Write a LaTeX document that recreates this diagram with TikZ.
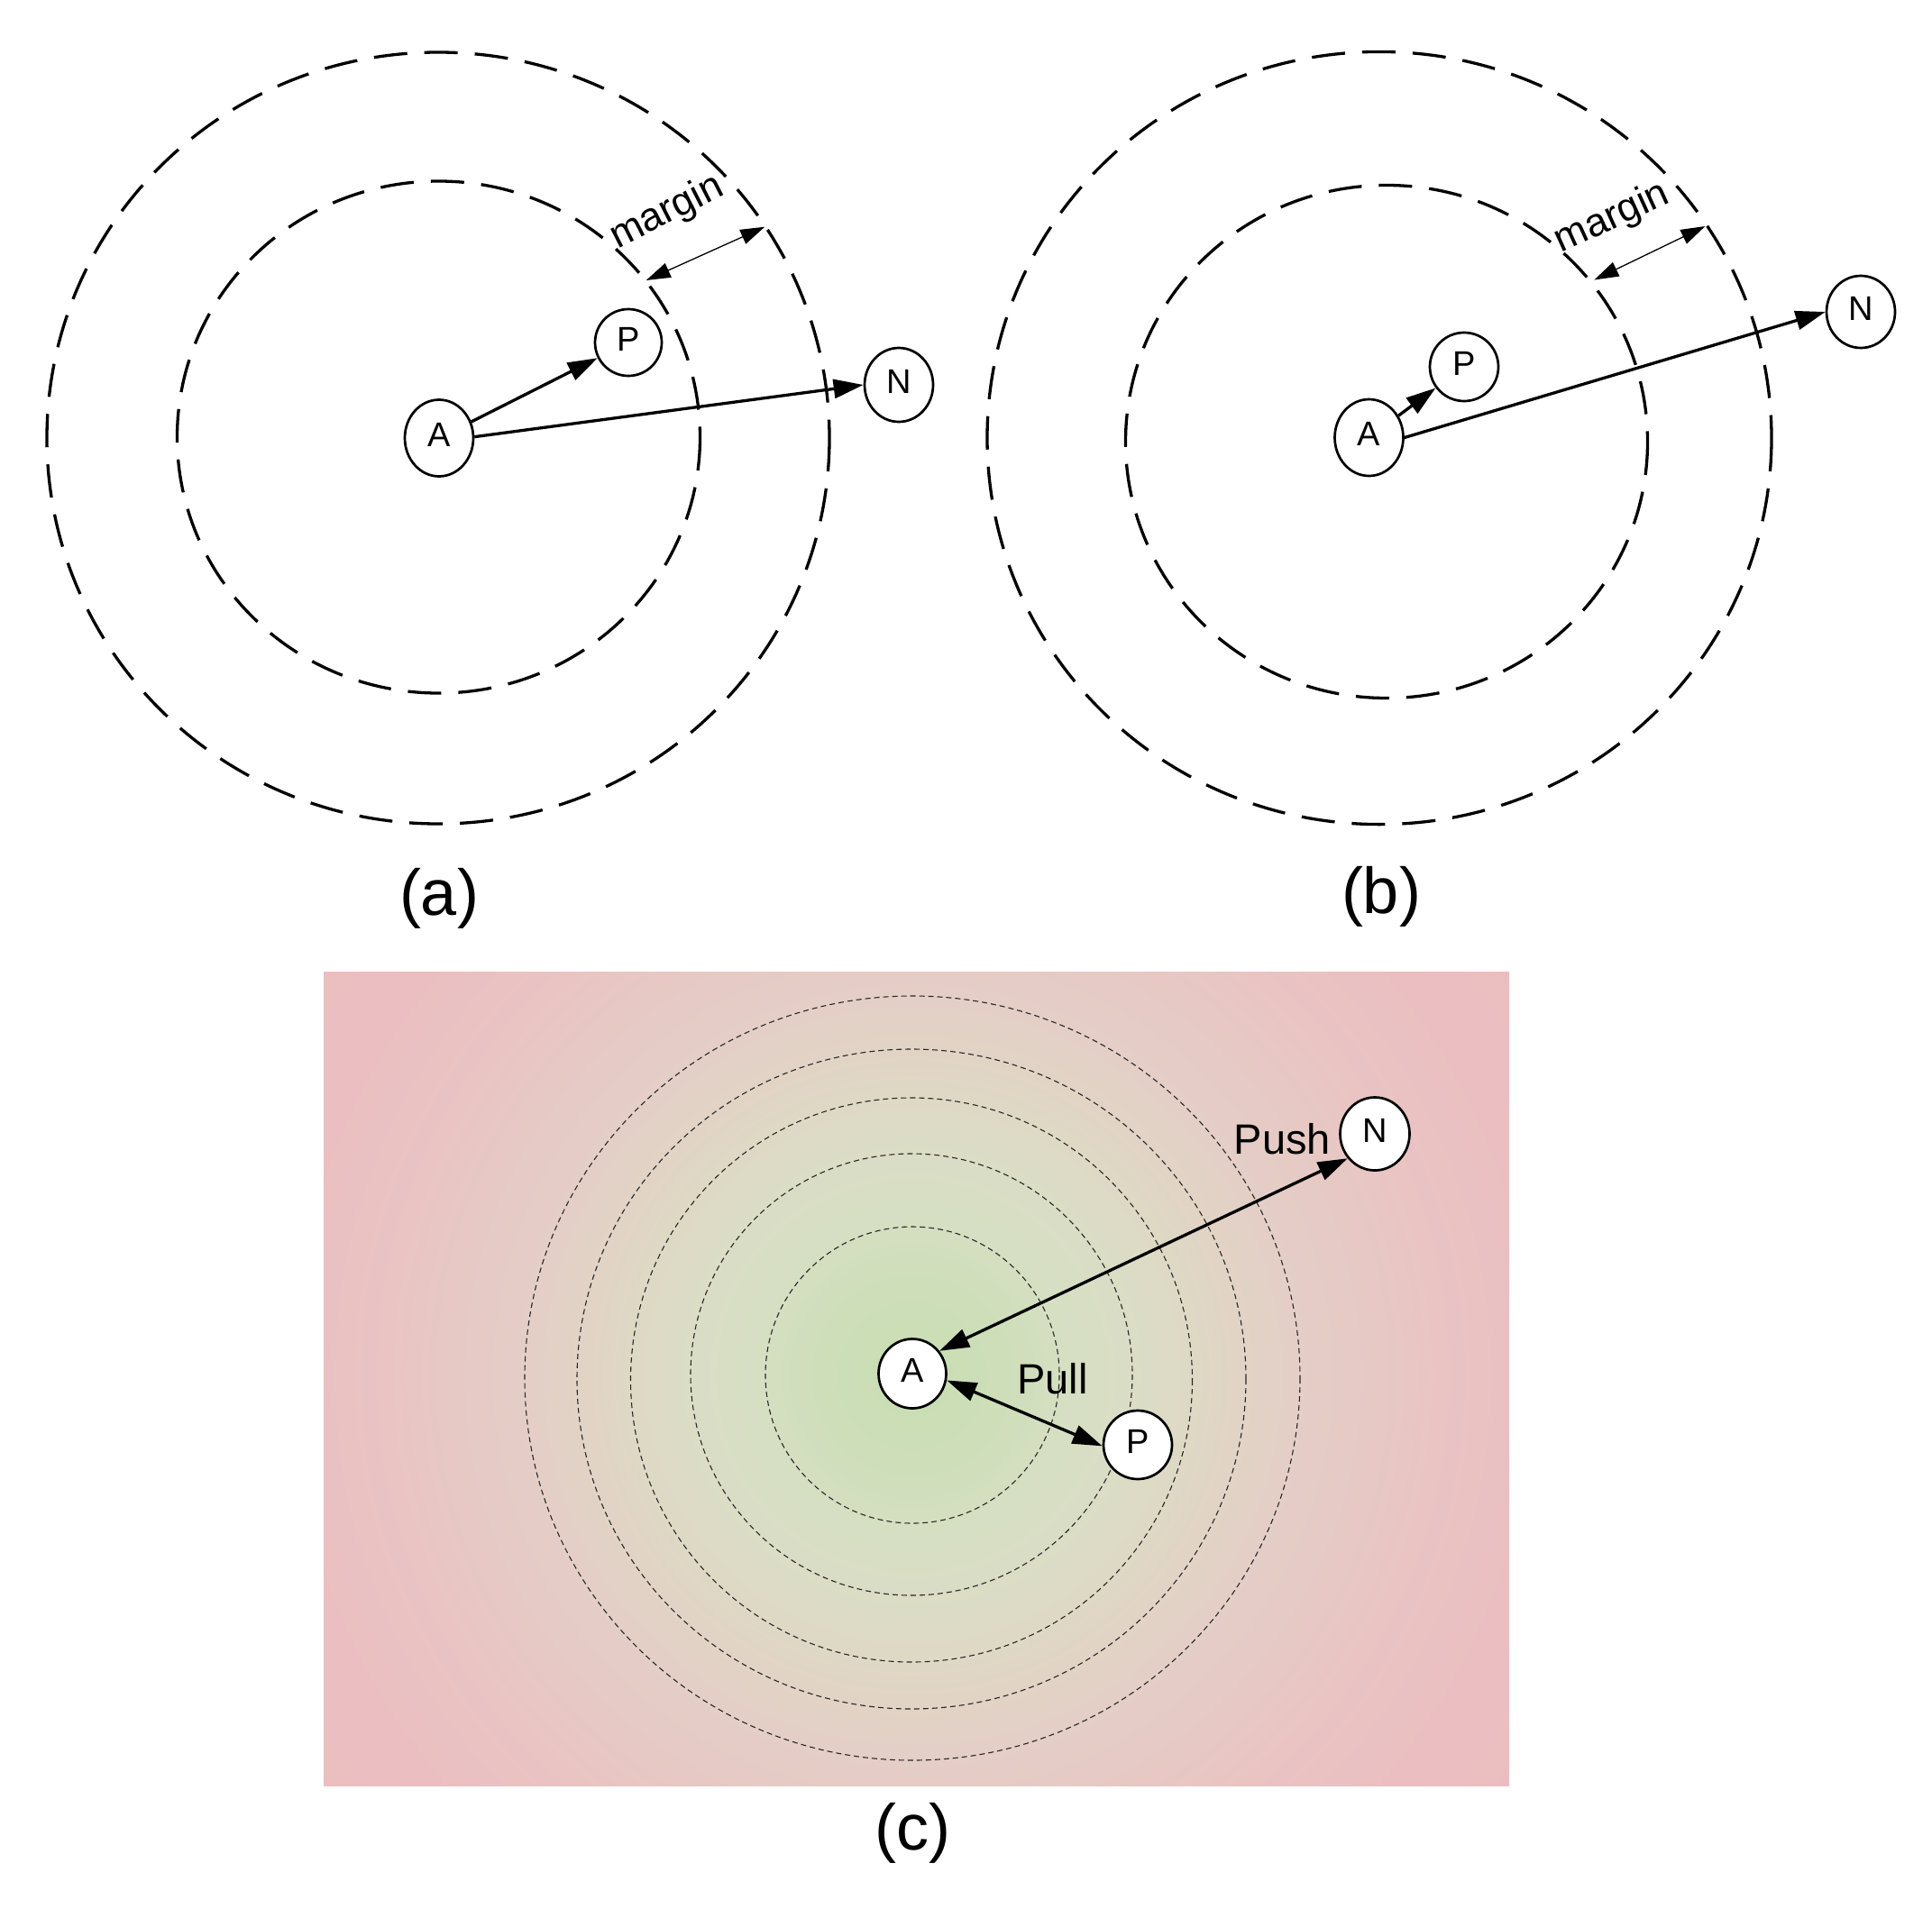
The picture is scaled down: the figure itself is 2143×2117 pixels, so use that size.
\documentclass[tikz,border=0pt]{standalone}
\usepackage{fontspec}
\setmainfont{Liberation Sans}
\usetikzlibrary{arrows.meta,shapes.geometric}
\definecolor{g0}{HTML}{C8DEB3}
\definecolor{g1}{HTML}{CDDEB8}
\definecolor{g2}{HTML}{D6DFC3}
\definecolor{g3}{HTML}{DCDCC6}
\definecolor{g4}{HTML}{E0D6C5}
\definecolor{g5}{HTML}{E4CEC6}
\definecolor{g6}{HTML}{E9C4C3}
\definecolor{g7}{HTML}{EBBFC1}
\definecolor{g8}{HTML}{EBBDC0}
\pgfdeclareradialshading{bgshade}{\pgfpoint{0bp}{0bp}}{color(0bp)=(g0); color(2.8bp)=(g1); color(5.5bp)=(g2); color(8.2bp)=(g3); color(10.3bp)=(g4); color(13bp)=(g5); color(17.8bp)=(g6); color(21.3bp)=(g7); color(25bp)=(g8); color(50bp)=(g8)}
\begin{document}
\begin{tikzpicture}[x=1pt,y=-1pt,
  nd/.style={ellipse, draw, line width=2.7pt, fill=white, inner sep=0pt,
    font=\fontsize{38}{40}\selectfont, text depth=8pt},
  ring/.style={dash pattern=on 37pt off 19pt, line width=3.3pt},
  fring/.style={dash pattern=on 6pt off 4pt, line width=1.1pt, black!85},
  arr/.style={line width=3.3pt, -{Triangle[length=33pt,width=21pt]}},
  darr/.style={line width=3.3pt, {Triangle[length=33pt,width=21pt]}-{Triangle[length=33pt,width=21pt]}},
  marr/.style={line width=1.3pt, {Triangle[length=27pt,width=17pt]}-{Triangle[length=27pt,width=17pt]}},
  mtext/.style={font=\fontsize{44}{46}\selectfont, anchor=base, inner sep=0pt},
  ftext/.style={font=\fontsize{47}{50}\selectfont, inner sep=0pt},
  lbl/.style={font=\fontsize{72}{76}\selectfont, anchor=base, inner sep=0pt}
]
\useasboundingbox (0,0) rectangle (2143,2117);

% ---------- panel (a) ----------
\draw[ring] (486,486) ellipse [x radius=434, y radius=428];
\draw[ring] (486.5,485) ellipse [x radius=290, y radius=284];
\node[nd, minimum width=76pt, minimum height=85pt] (aA) at (487,486) {A};
\node[nd, minimum width=74pt, minimum height=74pt] (aP) at (697,380) {P};
\node[nd, minimum width=76pt, minimum height=82pt] (aN) at (997,427) {N};
\draw[arr] (aA) -- (aP);
\draw[arr] (aA.2) -- (aN.180);
\coordinate (am1) at (716.7,311);
\coordinate (am2) at (848.3,251.7);
\draw[marr] (am1) -- (am2);
\node[mtext, rotate=27] (amt) at (745,246) {margin};
\node[lbl] (alab) at (487,1015) {(a)};

% ---------- panel (b) ----------
\draw[ring] (1530,486) ellipse [x radius=435, y radius=428.6];
\draw[ring] (1538,490) ellipse [x radius=289.5, y radius=284.5];
\node[nd, minimum width=76pt, minimum height=85pt] (bA) at (1518.5,485.5) {A};
\node[nd, minimum width=76pt, minimum height=76pt] (bP) at (1624,407) {P};
\node[nd, minimum width=76pt, minimum height=80pt] (bN) at (2064,346) {N};
\draw[arr] (bA) -- (bP);
\draw[arr] (bA.0) -- (bN.180);
\coordinate (bm1) at (1768.4,310.5);
\coordinate (bm2) at (1891.4,251);
\draw[marr] (bm1) -- (bm2);
\node[mtext, rotate=24.5] (bmt) at (1793,252.5) {margin};
\node[lbl] (blab) at (1532,1013) {(b)};

% ---------- panel (c) ----------
\begin{scope}
  \clip (359,1078) rectangle (1674,1981);
  \shade[shading=bgshade] (1012,1526) circle [radius=820];
\end{scope}
\draw[fring] (1012,1525.5) ellipse [x radius=163, y radius=164.5];
\draw[fring] (1011,1525) ellipse [x radius=245, y radius=245];
\draw[fring] (1011,1531) ellipse [x radius=311.5, y radius=313];
\draw[fring] (1011,1530) ellipse [x radius=371, y radius=366];
\draw[fring] (1012,1529) ellipse [x radius=430, y radius=424];
\node[nd, minimum width=75pt, minimum height=77pt] (cA) at (1012,1524) {A};
\node[nd, minimum width=76pt, minimum height=76pt] (cP) at (1262,1603) {P};
\node[nd, minimum width=77pt, minimum height=81pt] (cN) at (1525,1258) {N};
\draw[darr] (cA.40) -- (cN.222);
\draw[darr] (cA.-11) -- (cP.182);
\node[ftext, anchor=base east] (push) at (1476,1280) {Push};
\node[ftext, anchor=base west] (pull) at (1128,1546.5) {Pull};
\node[lbl] (clab) at (1012,2052) {(c)};
\end{tikzpicture}
\end{document}
